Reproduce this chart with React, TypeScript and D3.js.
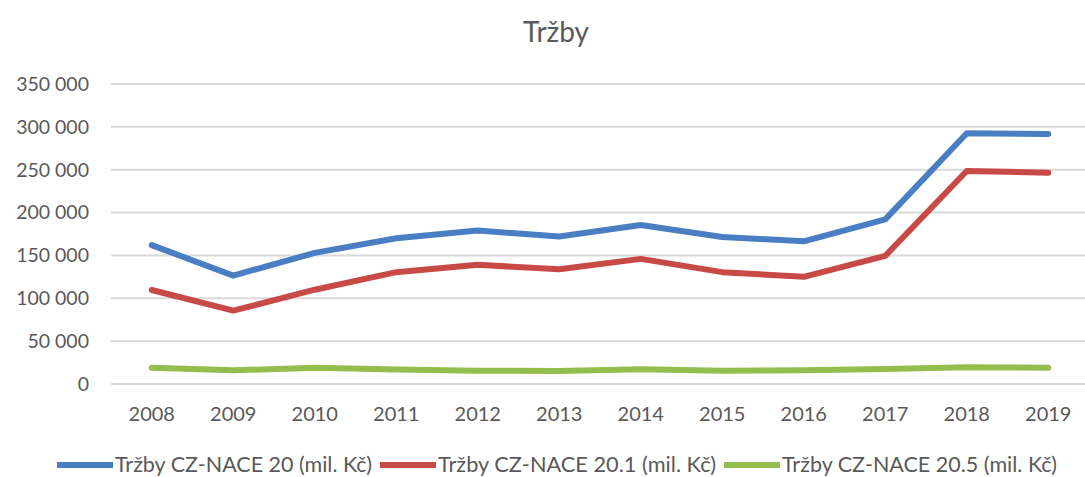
import React from 'react';
import { scalePoint, scaleLinear, line } from 'd3';

const years = ['2008', '2009', '2010', '2011', '2012', '2013', '2014', '2015', '2016', '2017', '2018', '2019'];
const nace20 = [162000, 126500, 153000, 170000, 179000, 172000, 185500, 171500, 166500, 192000, 292500, 291800];
const nace201 = [109700, 85500, 110000, 130500, 139000, 133800, 146000, 130500, 125000, 149500, 248500, 246500];
const nace205 = [19000, 16000, 19000, 17000, 15600, 15200, 17200, 15600, 16000, 17500, 19400, 19000];
const yTicks = [0, 50000, 100000, 150000, 200000, 250000, 300000, 350000];
const seriesNames = ['Tržby CZ-NACE 20 (mil. Kč)', 'Tržby CZ-NACE 20.1 (mil. Kč)', 'Tržby CZ-NACE 20.5 (mil. Kč)'];
const colors = ['#4A7EC3', '#C84A47', '#93BE4E'];

const W = 1085, H = 477;
const font = 'Lato, Carlito, "Open Sans", sans-serif';
const textColor = '#595959';

const fmt = (v: number) => String(v).replace(/\B(?=(\d{3})+(?!\d))/g, '\u00a0');

export default function App() {
  const left = 111, right = 1089, top = 84, bottom = 384;

  // points centred in 12 equal slots, like category axis in excel
  const x = scalePoint<string>().domain(years).range([left, right]).padding(0.5);
  const y = scaleLinear().domain([0, 350000]).range([bottom, top]);

  const lineF = line<number>()
    .x((_, i) => x(years[i]) as number)
    .y(d => y(d));

  const data = [nace20, nace201, nace205];
  const legendX = [57, 380, 724];
  const legendW = [257, 278, 275];

  return (
    <div style={{ position: 'fixed', left: 0, top: 0 }}>
      <svg width={W} height={H} style={{ display: 'block', background: '#fff' }} fontFamily={font}>
        <text x={556} y={42} textAnchor="middle" fontSize={28} fill={textColor}>Tržby</text>

        {yTicks.map(t => (
          <g key={t}>
            <line x1={left} x2={right} y1={y(t)} y2={y(t)} stroke="#d9d9d9" strokeWidth={2} />
            <text x={89} y={y(t)} dy="0.35em" textAnchor="end" fontSize={19.5} fill={textColor}>{fmt(t)}</text>
          </g>
        ))}

        {years.map(yr => (
          <text key={yr} x={x(yr)} y={421} textAnchor="middle" fontSize={20} fill={textColor}>{yr}</text>
        ))}

        {data.map((d, i) => (
          <path key={i} d={lineF(d) || ''} fill="none" stroke={colors[i]} strokeWidth={6}
            strokeLinejoin="round" strokeLinecap="round" />
        ))}

        {seriesNames.map((name, i) => (
          <g key={name} transform={`translate(${legendX[i]},465)`}>
            <line x1={0} x2={56} y1={0} y2={0} stroke={colors[i]} strokeWidth={6} />
            <text x={58} y={6.5} fontSize={21} fill={textColor}
              textLength={legendW[i]} lengthAdjust="spacingAndGlyphs">{name}</text>
          </g>
        ))}
      </svg>
    </div>
  );
}
